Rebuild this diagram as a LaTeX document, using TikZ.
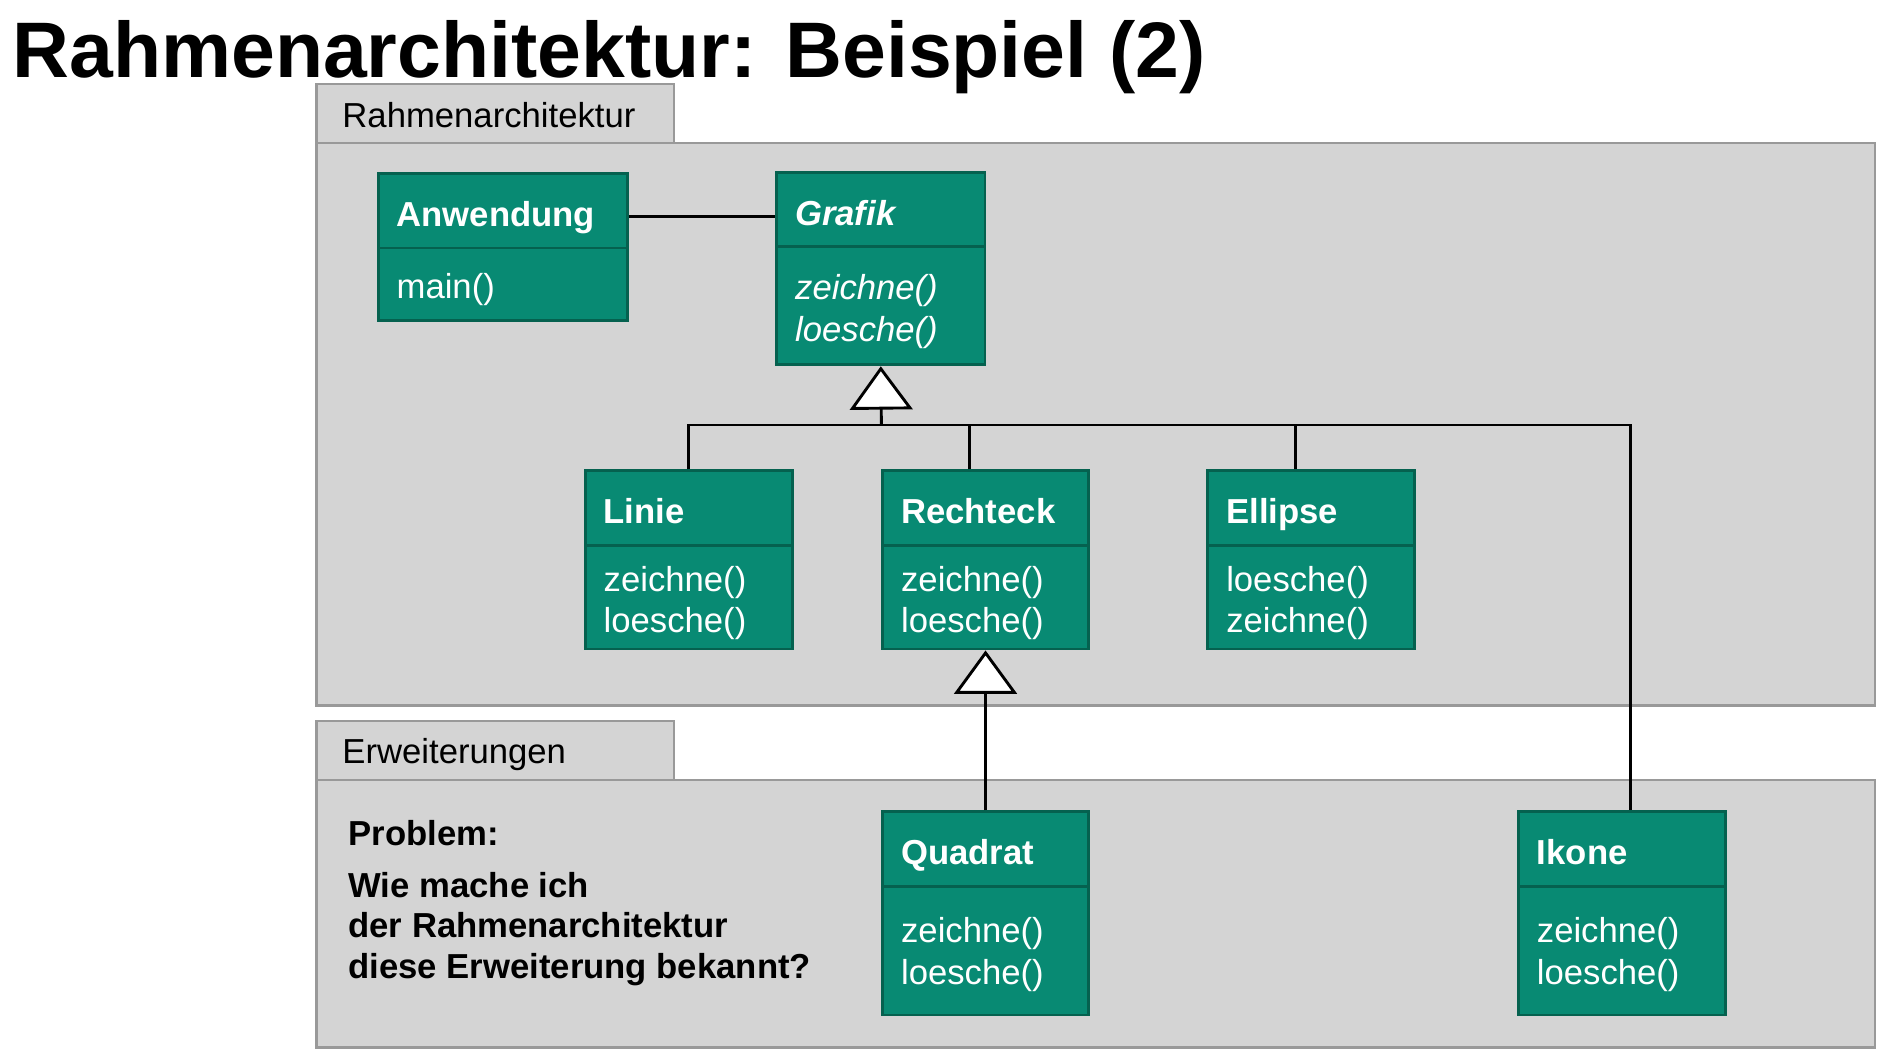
\documentclass[tikz,border=0pt]{standalone}
\usepackage{fontspec}
\setmainfont{Liberation Sans}
\usetikzlibrary{arrows.meta,fit}

\definecolor{gruen}{HTML}{088A73}
\definecolor{gruenrand}{HTML}{05614F}
\definecolor{paketgrau}{HTML}{D4D4D4}
\definecolor{paketrand}{HTML}{999999}

% Klasse: Name, x, y, Breite, Hoehe, Kopf, Operationen, Abstand Operationen
\newcommand{\klasse}[8]{%
  \node[klasse, fit={(#2,#3) (#2+#4,#3+#5)}] (#1) {};
  \draw[trenner] (#2,#3+62) -- (#2+#4,#3+62);
  \node[kopf] (#1-kopf) at (#2+15,#3+44) {#6};
  \node[methoden] (#1-op) at (#2+15,#3+#8) {\parbox[t]{80pt}{#7}};
}

\begin{document}
\begin{tikzpicture}[x=0.5pt, y=-0.5pt,
    paket/.style={fill=paketgrau, draw=paketrand, line width=1pt, inner sep=0pt},
    reiter/.style={anchor=base west, inner sep=0pt, font=\fontsize{14.4}{17.5}\selectfont},
    klasse/.style={fill=gruen, draw=gruenrand, line width=1.2pt, inner sep=0pt},
    trenner/.style={draw=gruenrand, line width=1.2pt},
    kopf/.style={anchor=base west, inner sep=0pt, text=white, font=\fontsize{14.4}{17.5}\selectfont\bfseries},
    methoden/.style={anchor=base west, inner sep=0pt, text=white, font=\fontsize{14.4}{17.3}\selectfont},
    problem/.style={anchor=base west, inner sep=0pt, font=\fontsize{14.4}{17}\selectfont\bfseries},
    titel/.style={anchor=base west, inner sep=0pt, font=\fontsize{32.7}{36}\selectfont\bfseries},
    verbindung/.style={line width=1.2pt},
    vererbung/.style={line width=1.2pt, -{Triangle[length=18pt, width=26pt, fill=white]}}]
  \useasboundingbox (0,0) rectangle (1568,881.2);

  \node[titel] (titel) at (10,64) {Rahmenarchitektur: Beispiel (2)};

  % Pakete
  \node[paket, fit={(263,70) (560,119)}] (rahmen-reiter) {};
  \node[paket, fit={(263,119) (1557,586)}] (rahmen) {};
  \node[reiter] (rahmen-name) at (284,106) {Rahmenarchitektur};
  \node[paket, fit={(263,599) (560,648)}] (erw-reiter) {};
  \node[paket, fit={(263,648) (1557,870)}] (erw) {};
  \node[reiter] (erw-name) at (284,634) {Erweiterungen};

  % Klassen
  \klasse{anwendung}{314}{144}{207}{122}{Anwendung}{main()}{104}
  \klasse{grafik}{645}{143}{173}{160}{\textit{Grafik}}{\itshape zeichne()\\loesche()}{106}
  \klasse{linie}{486}{391}{172}{148}{Linie}{zeichne()\\loesche()}{100}
  \klasse{rechteck}{733}{391}{171}{148}{Rechteck}{zeichne()\\loesche()}{100}
  \klasse{ellipse}{1003}{391}{172}{148}{Ellipse}{loesche()\\zeichne()}{100}
  \klasse{quadrat}{733}{674}{171}{169}{Quadrat}{zeichne()\\loesche()}{109}
  \klasse{ikone}{1261}{674}{172}{169}{Ikone}{zeichne()\\loesche()}{109}

  \node[problem] (problem) at (289,702) {Problem:};
  \node[problem] (frage) at (289,745) {\parbox[t]{250pt}{Wie mache ich\\der Rahmenarchitektur\\diese Erweiterung bekannt?}};

  % Verbindungen
  \draw[verbindung] ([yshift=12.5pt]anwendung.east) -- ([yshift=12.5pt]anwendung.east -| grafik.west);
  \coordinate (bus) at (732,353);
  \draw[verbindung] (linie.north) |- (bus) -| ([xshift=3.5pt]ikone.north);
  \draw[verbindung] ([xshift=-6.75pt]rechteck.north) |- (bus);
  \draw[verbindung] ([xshift=-6.5pt]ellipse.north) |- (bus);
  \draw[vererbung] (bus) -- (grafik.south);
  \draw[vererbung] (quadrat.north) -- (rechteck.south);
\end{tikzpicture}
\end{document}
